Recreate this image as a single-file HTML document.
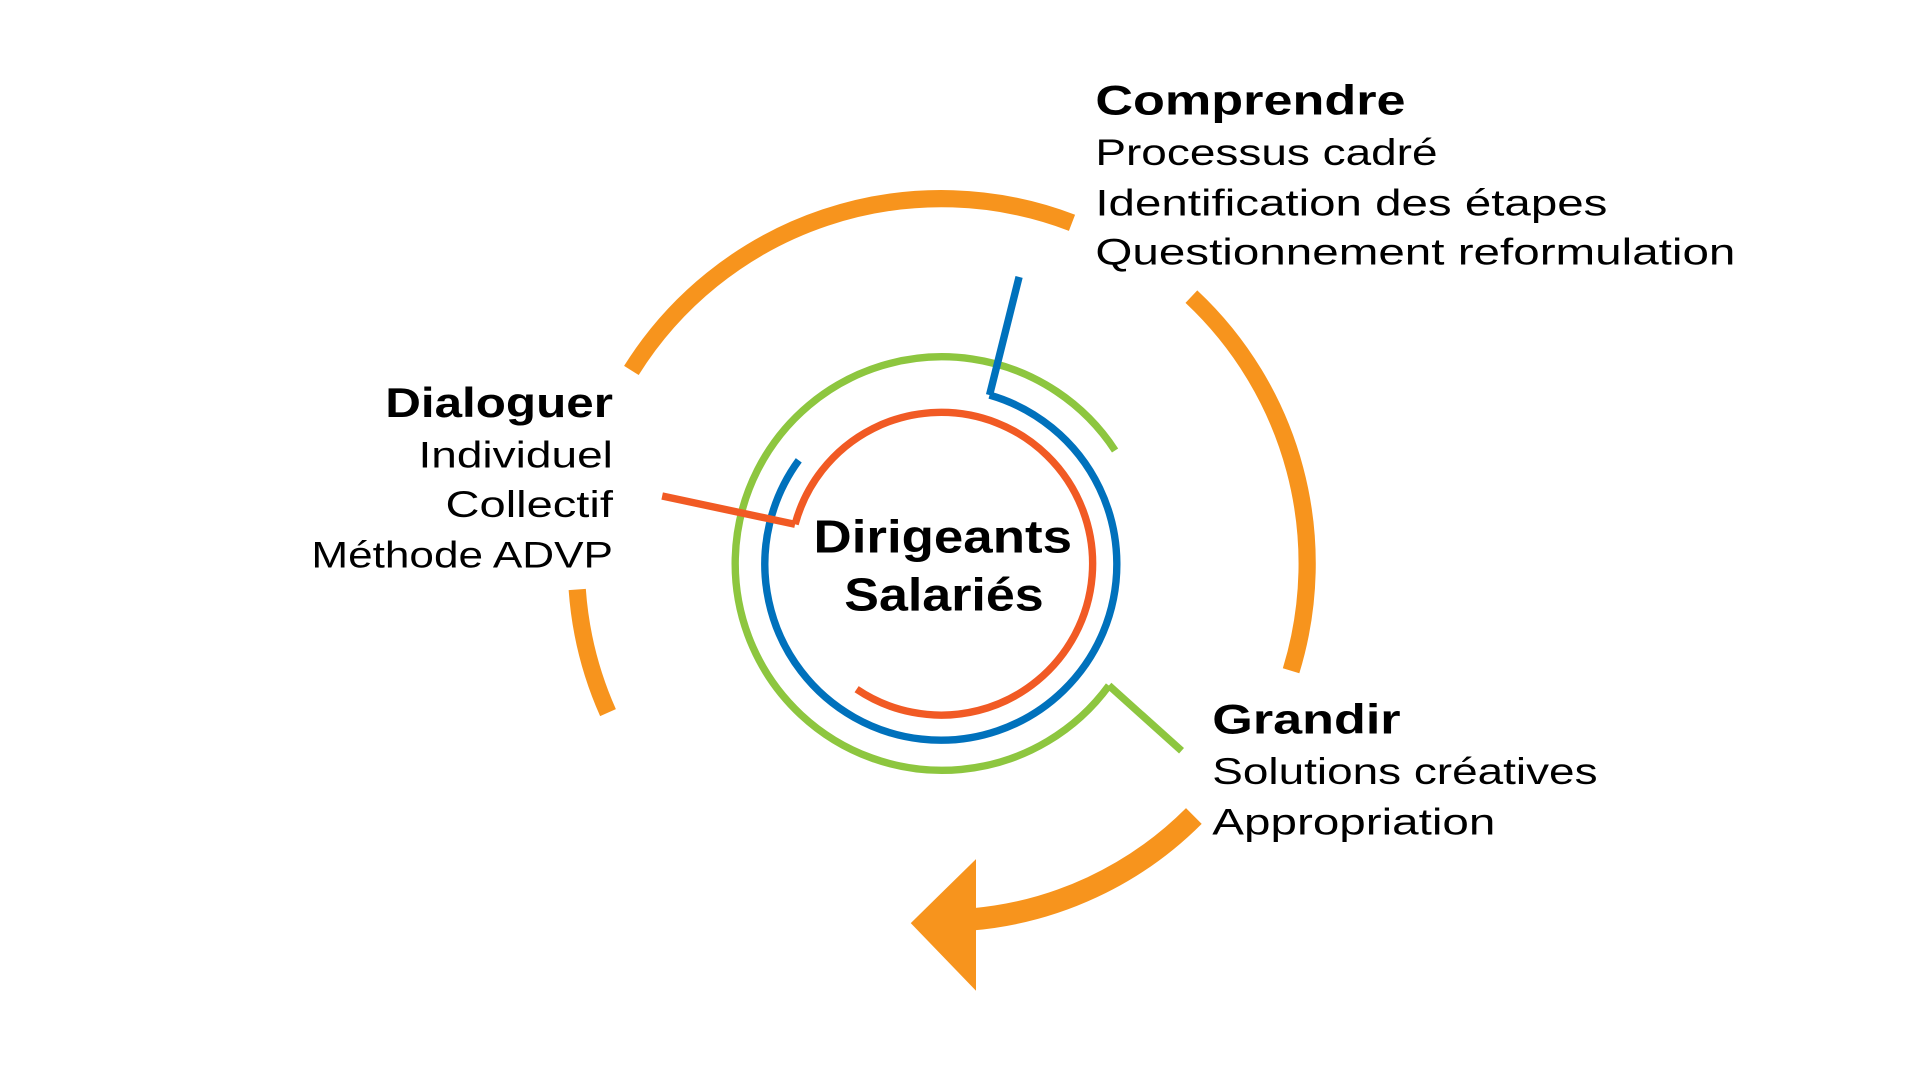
<!DOCTYPE html>
<html><head><meta charset="utf-8"><style>
html,body{margin:0;padding:0;background:#fff;}
svg{display:block;}
text{font-family:"Liberation Sans",sans-serif;fill:#000;}
.h{font-weight:bold;font-size:34px;}
.b{font-size:30px;}
</style></head><body>
<svg width="1920" height="1080" viewBox="0 0 1560 877.5" xmlns="http://www.w3.org/2000/svg">
<g fill="none" stroke-linecap="butt">
<path d="M513,301 A297,297 0 0 1 871,181" stroke="#F7941D" stroke-width="14"/>
<path d="M968,241 A297,297 0 0 1 1049,545" stroke="#F7941D" stroke-width="14"/>
<path d="M494,579 A297,297 0 0 1 469,479" stroke="#F7941D" stroke-width="14"/>
<path d="M970,663 A290,290 0 0 1 790,747" stroke="#F7941D" stroke-width="18"/>
<path d="M901,557 A168,168 0 1 1 906,366" stroke="#8DC63F" stroke-width="6"/>
<path d="M901,557 L960,610" stroke="#8DC63F" stroke-width="6"/>
<path d="M804,321 A143,143 0 1 1 649,374" stroke="#0071BC" stroke-width="6"/>
<path d="M804,321 L828,225" stroke="#0071BC" stroke-width="6"/>
<path d="M646,426 A123,123 0 1 1 696,560" stroke="#F15A24" stroke-width="6"/>
<path d="M646,426 L538,403" stroke="#F15A24" stroke-width="6"/>
</g>
<polygon points="793,698 740,750 793,805" fill="#F7941D"/>
<text class="h" x="890" y="93" textLength="252" lengthAdjust="spacingAndGlyphs">Comprendre</text>
<text class="b" x="890" y="134" textLength="278" lengthAdjust="spacingAndGlyphs">Processus cadré</text>
<text class="b" x="890" y="175" textLength="416" lengthAdjust="spacingAndGlyphs">Identification des étapes</text>
<text class="b" x="890" y="215" textLength="520" lengthAdjust="spacingAndGlyphs">Questionnement reformulation</text>
<text class="h" x="313" y="339" textLength="185" lengthAdjust="spacingAndGlyphs">Dialoguer</text>
<text class="b" x="340" y="380" textLength="158" lengthAdjust="spacingAndGlyphs">Individuel</text>
<text class="b" x="362" y="420" textLength="136" lengthAdjust="spacingAndGlyphs">Collectif</text>
<text class="b" x="253" y="461" textLength="245" lengthAdjust="spacingAndGlyphs">Méthode ADVP</text>
<text class="h" x="985" y="596" textLength="153" lengthAdjust="spacingAndGlyphs">Grandir</text>
<text class="b" x="985" y="637" textLength="313" lengthAdjust="spacingAndGlyphs">Solutions créatives</text>
<text class="b" x="985" y="678" textLength="230" lengthAdjust="spacingAndGlyphs">Appropriation</text>
<text x="766" y="449" text-anchor="middle" font-weight="bold" font-size="38" textLength="210" lengthAdjust="spacingAndGlyphs">Dirigeants</text>
<text x="767" y="496" text-anchor="middle" font-weight="bold" font-size="38" textLength="162" lengthAdjust="spacingAndGlyphs">Salariés</text>
</svg>
</body></html>
